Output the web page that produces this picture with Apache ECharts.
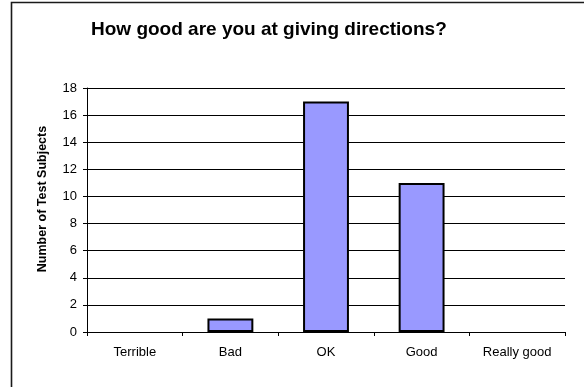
<!DOCTYPE html>
<html>
<head>
<meta charset="utf-8">
<script src="https://cdn.jsdelivr.net/npm/echarts@6/dist/echarts.min.js"></script>
<style>
  html, body { margin: 0; padding: 0; background: #ffffff; }
  #chart { width: 584px; height: 387px; }
</style>
</head>
<body>
<div id="chart"></div>
<script>
// Survey answers: self-rated skill at giving directions
const categories = ['Terrible', 'Bad', 'OK', 'Good', 'Really good'];
const subjectCounts = [0, 1, 17, 11, 0];
const yTicks = { min: 0, max: 18, interval: 2 };

const FONT = '"Liberation Sans", Arial, sans-serif';

// empty categories get no outline, so nothing is drawn for them
const barData = subjectCounts.map(v => ({
  value: v,
  itemStyle: v === 0 ? { borderWidth: 0, color: 'transparent' } : undefined
}));

const chart = echarts.init(document.getElementById('chart'), null, { renderer: 'canvas' });

chart.setOption({
  backgroundColor: '#ffffff',
  animation: false,
  title: {
    text: 'How good are you at giving directions?',
    left: 86,
    top: 15,
    textStyle: { fontFamily: FONT, fontSize: 19, fontWeight: 'bold', color: '#000000' }
  },
  graphic: [
    {
      // frame around the chart area
      type: 'polyline',
      shape: { points: [[11.5, 400], [11.5, 2.5], [600, 2.5]] },
      style: { stroke: '#1a1a1a', lineWidth: 1.6, fill: null },
      silent: true
    }
  ],
  grid: { left: 87, right: 19, top: 88, bottom: 55 },
  xAxis: {
    type: 'category',
    data: categories,
    axisLine: { lineStyle: { color: '#000000', width: 1 } },
    axisTick: { show: true, length: 4, inside: false, lineStyle: { color: '#000000' } },
    axisLabel: { fontFamily: FONT, fontSize: 13, color: '#000000', margin: 14 },
    splitLine: { show: false }
  },
  yAxis: {
    type: 'value',
    min: yTicks.min,
    max: yTicks.max,
    interval: yTicks.interval,
    name: 'Number of Test Subjects',
    nameLocation: 'middle',
    nameGap: 38,
    nameTextStyle: { fontFamily: FONT, fontSize: 12.5, fontWeight: 'bold', color: '#000000', padding: [0, 0, 0, 22] },
    axisLine: { show: true, lineStyle: { color: '#000000', width: 1 } },
    axisTick: { show: true, length: 4, inside: false, lineStyle: { color: '#000000' } },
    axisLabel: { fontFamily: FONT, fontSize: 13, color: '#000000', margin: 10 },
    splitLine: { show: true, lineStyle: { color: '#000000', width: 1 } }
  },
  series: [
    {
      type: 'bar',
      data: barData,
      barWidth: '48%',
      itemStyle: { color: '#9999FF', borderColor: '#000000', borderWidth: 2 }
    }
  ]
});
</script>
</body>
</html>
